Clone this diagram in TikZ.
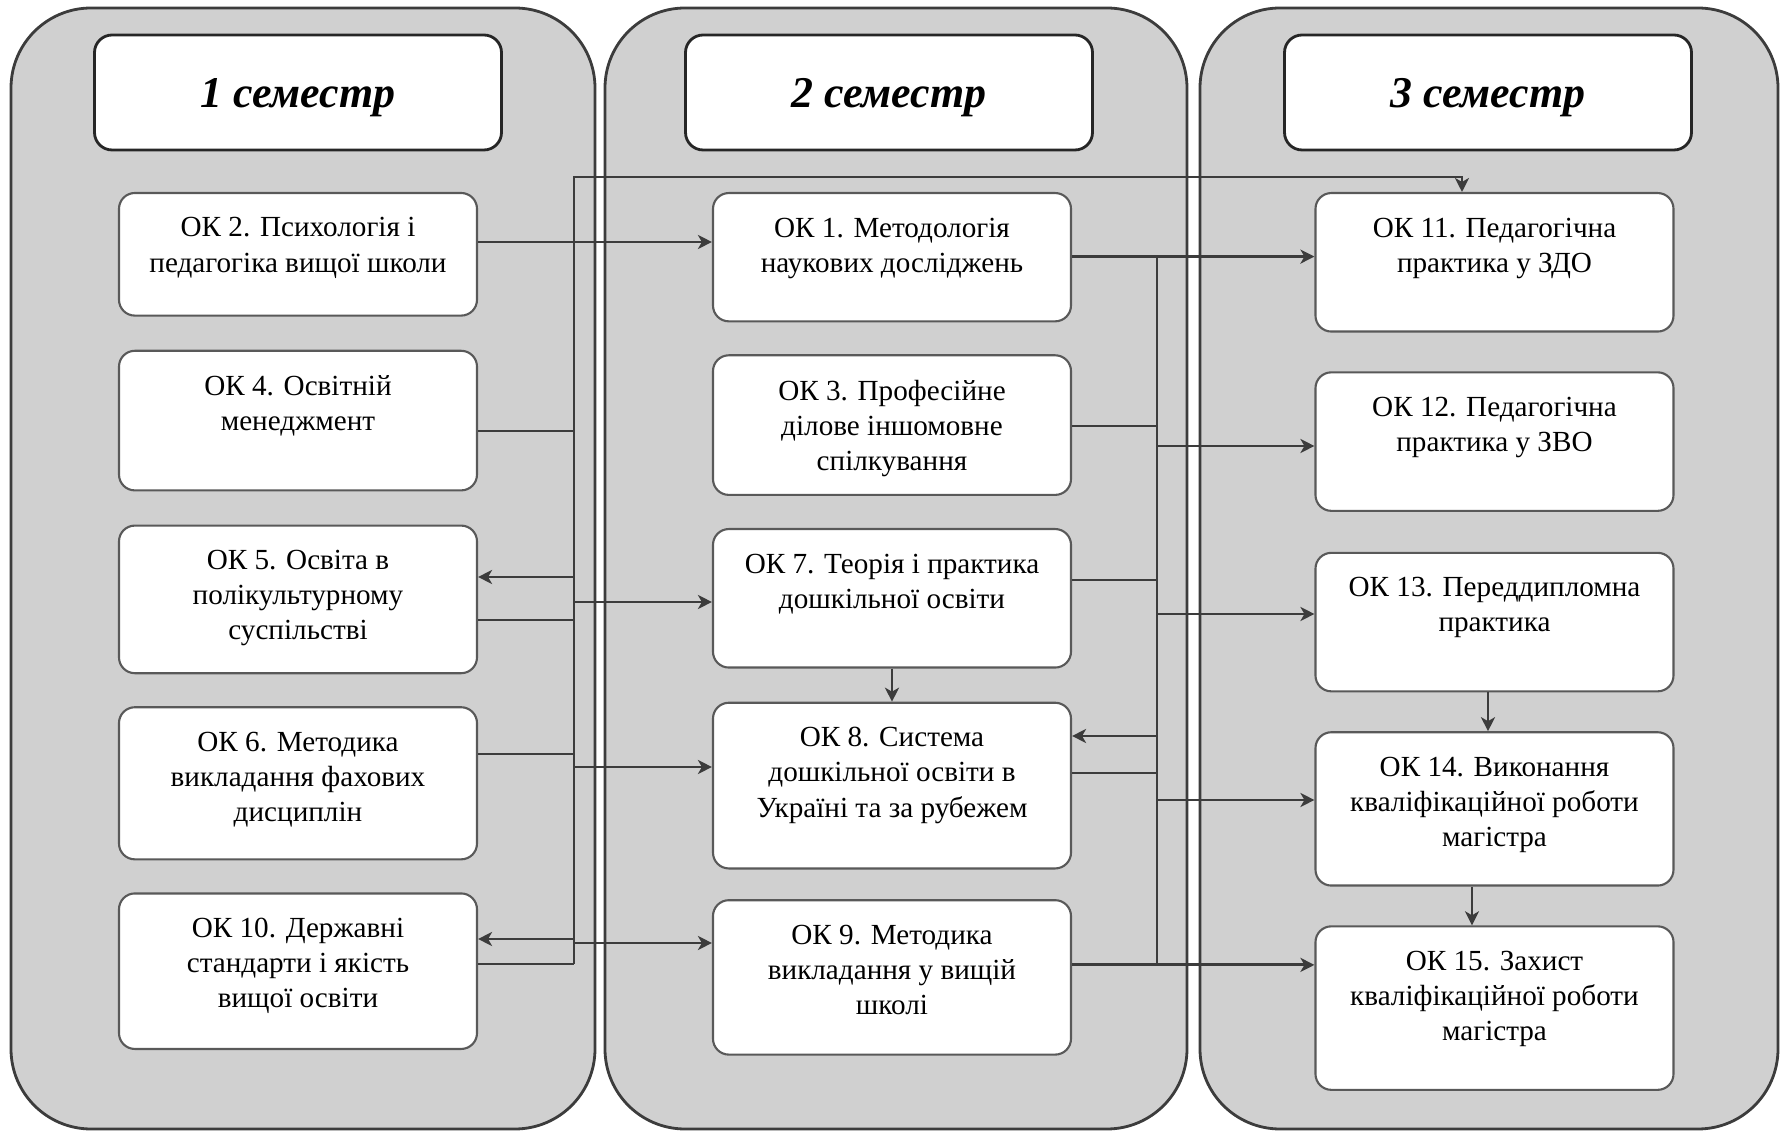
\documentclass[tikz,border=0pt]{standalone}
\usepackage{fontspec}
\setmainfont{Liberation Serif}
\usetikzlibrary{arrows.meta,positioning}
\definecolor{linegray}{HTML}{3C3C3C}
\definecolor{panelgray}{HTML}{D0D0D0}

\begin{document}
\begin{tikzpicture}[
  panel/.style={draw=linegray, fill=panelgray, rounded corners=0.8cm, line width=0.8pt},
  hdr/.style={draw=black!85, fill=white, rounded corners=5pt, minimum width=4.07cm, minimum height=1.15cm, line width=0.8pt, text height=11.5pt, text depth=2.7pt, font=\fontsize{12.5}{15}\selectfont\bfseries\itshape},
  okbox/.style={draw=linegray!85, fill=white, rounded corners=4.5pt, minimum width=3.58cm, line width=0.6pt},
  oktext/.style={anchor=north, align=center, inner sep=0pt, font=\fontsize{8.3}{10}\selectfont},
  conn/.style={draw=linegray, line width=0.7pt},
  arr/.style={-{Stealth[length=1.4mm, width=1.4mm, inset=0.4mm]}, draw=linegray, line width=0.8pt},
]
  \useasboundingbox (0,0) rectangle (17.8,-11.32);

  % semester panels
  \draw[panel] (0.11,-0.08) rectangle (5.95,-11.29);
  \draw[panel] (6.05,-0.08) rectangle (11.87,-11.29);
  \draw[panel] (12.00,-0.08) rectangle (17.78,-11.29);

  \node[hdr] (sem1) at (2.98,-0.925) {1 семестр};
  \node[hdr] (sem2) at (8.89,-0.925) {2 семестр};
  \node[hdr] (sem3) at (14.88,-0.925) {3 семестр};

  % 1 semester
  \node[okbox, minimum height=1.226cm] (ok2) at (2.98,-2.543) {};
  \node[oktext] (ok2t) at ([yshift=-0.25cm]ok2.north) {ОК 2. Психологія і\\педагогіка вищої школи};
  \node[okbox, minimum height=1.396cm] (ok4) at (2.98,-4.206) {};
  \node[oktext] (ok4t) at ([yshift=-0.25cm]ok4.north) {ОК 4. Освітній\\менеджмент};
  \node[okbox, minimum height=1.476cm] (ok5) at (2.98,-5.994) {};
  \node[oktext] (ok5t) at ([yshift=-0.25cm]ok5.north) {ОК 5. Освіта в\\полікультурному\\суспільстві};
  \node[okbox, minimum height=1.521cm] (ok6) at (2.98,-7.833) {};
  \node[oktext] (ok6t) at ([yshift=-0.25cm]ok6.north) {ОК 6. Методика\\викладання фахових\\дисциплін};
  \node[okbox, minimum height=1.555cm] (ok10) at (2.98,-9.712) {};
  \node[oktext] (ok10t) at ([yshift=-0.25cm]ok10.north) {ОК 10. Державні\\стандарти і якість\\вищої освіти};

  % 2 semester
  \node[okbox, minimum height=1.283cm] (ok1) at (8.92,-2.572) {};
  \node[oktext] (ok1t) at ([yshift=-0.25cm]ok1.north) {ОК 1. Методологія\\наукових досліджень};
  \node[okbox, minimum height=1.396cm] (ok3) at (8.92,-4.251) {};
  \node[oktext] (ok3t) at ([yshift=-0.25cm]ok3.north) {ОК 3. Професійне\\ділове іншомовне\\спілкування};
  \node[okbox, minimum height=1.385cm] (ok7) at (8.92,-5.983) {};
  \node[oktext] (ok7t) at ([yshift=-0.25cm]ok7.north) {ОК 7. Теорія і практика\\дошкільної освіти};
  \node[okbox, minimum height=1.657cm] (ok8) at (8.92,-7.856) {};
  \node[oktext] (ok8t) at ([yshift=-0.25cm]ok8.north) {ОК 8. Система\\дошкільної освіти в\\Україні та за рубежем};
  \node[okbox, minimum height=1.544cm] (ok9) at (8.92,-9.774) {};
  \node[oktext] (ok9t) at ([yshift=-0.25cm]ok9.north) {ОК 9. Методика\\викладання у вищій\\школі};

  % 3 semester
  \node[okbox, minimum height=1.385cm] (ok11) at (14.945,-2.623) {};
  \node[oktext] (ok11t) at ([yshift=-0.25cm]ok11.north) {ОК 11. Педагогічна\\практика у ЗДО};
  \node[okbox, minimum height=1.385cm] (ok12) at (14.945,-4.416) {};
  \node[oktext] (ok12t) at ([yshift=-0.25cm]ok12.north) {ОК 12. Педагогічна\\практика у ЗВО};
  \node[okbox, minimum height=1.385cm] (ok13) at (14.945,-6.221) {};
  \node[oktext] (ok13t) at ([yshift=-0.25cm]ok13.north) {ОК 13. Переддипломна\\практика};
  \node[okbox, minimum height=1.533cm] (ok14) at (14.945,-8.089) {};
  \node[oktext] (ok14t) at ([yshift=-0.25cm]ok14.north) {ОК 14. Виконання\\кваліфікаційної роботи\\магістра};
  \node[okbox, minimum height=1.635cm] (ok15) at (14.945,-10.081) {};
  \node[oktext] (ok15t) at ([yshift=-0.25cm]ok15.north) {ОК 15. Захист\\кваліфікаційної роботи\\магістра};

  % buses
  \coordinate (lt) at (5.74,-1.77);
  \coordinate (lb) at (5.74,-9.64);
  \coordinate (rt) at (11.57,-2.566);
  \coordinate (rb) at (11.57,-9.649);
  \coordinate (t11) at (14.62,-1.77);

  \draw[arr] (lb) -- (lt) -- (t11) -- (t11 |- ok11.north);
  \draw[arr] (ok2.east |- 0,-2.42) -- (ok1.west |- 0,-2.42);
  \draw[conn] (ok4.east |- 0,-4.31) -- (lt |- 0,-4.31);
  \draw[arr] (lt |- 0,-5.77) -- (ok5.east |- 0,-5.77);
  \draw[conn] (ok5.east |- 0,-6.20) -- (lt |- 0,-6.20);
  \draw[arr] (lt |- 0,-6.02) -- (ok7.west |- 0,-6.02);
  \draw[conn] (ok6.east |- 0,-7.54) -- (lt |- 0,-7.54);
  \draw[arr] (lt |- 0,-7.67) -- (ok8.west |- 0,-7.67);
  \draw[arr] (lt |- 0,-9.39) -- (ok10.east |- 0,-9.39);
  \draw[arr] (lt |- 0,-9.43) -- (ok9.west |- 0,-9.43);
  \draw[conn] (ok10.east |- lb) -- (lb);

  \draw[conn] (rb) -- (rt);
  \draw[arr] (ok1.east |- rt) -- (ok11.west |- rt);
  \draw[conn] (ok3.east |- 0,-4.26) -- (rt |- 0,-4.26);
  \draw[arr] (rt |- 0,-4.46) -- (ok12.west |- 0,-4.46);
  \draw[conn] (ok7.east |- 0,-5.80) -- (rt |- 0,-5.80);
  \draw[arr] (rt |- 0,-6.14) -- (ok13.west |- 0,-6.14);
  \draw[arr] (rt |- 0,-7.36) -- (ok8.east |- 0,-7.36);
  \draw[conn] (ok8.east |- 0,-7.73) -- (rt |- 0,-7.73);
  \draw[arr] (rt |- 0,-8.00) -- (ok14.west |- 0,-8.00);
  \draw[arr] (ok9.east |- rb) -- (ok15.west |- rb);

  \draw[arr] (ok7) -- (ok8);
  \draw[arr] (ok13.south -| 14.88,0) -- (ok14.north -| 14.88,0);
  \draw[arr] (ok14.south -| 14.72,0) -- (ok15.north -| 14.72,0);
\end{tikzpicture}
\end{document}
